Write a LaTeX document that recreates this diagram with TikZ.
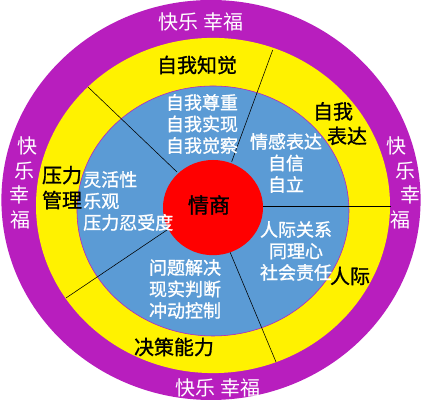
\documentclass[tikz,border=0pt]{standalone}
\usepackage{fontspec}
\setmainfont{Noto Sans CJK SC}
\newfontfamily\heavycjk[FakeBold=1.2]{Noto Sans CJK SC}
\definecolor{ringpurple}{RGB}{184,30,190}
\definecolor{ringblue}{RGB}{91,155,213}
\begin{document}
\begin{tikzpicture}[
  happy/.style={white, inner sep=0pt, font=\fontsize{14.2}{17}\selectfont},
  area/.style={black, inner sep=0pt, align=center, font=\heavycjk\fontsize{14.2}{17.5}\selectfont},
  skill/.style={white, inner sep=0pt, align=center, font=\heavycjk\fontsize{12.8}{15.3}\selectfont}]
  \useasboundingbox (-5.325,-4.875) rectangle (5.225,5.15);
  % rings
  \fill[ringpurple] (-0.05,0.15) ellipse (5.24 and 5.0);
  \fill[yellow] (0,0.0125) ellipse (4.425 and 4.19);
  \draw[ringpurple, fill=ringblue] (0,-0.125) ellipse (3.4 and 3.125);
  % spokes
  \draw (0.4675,1.1075)--(1.4925,3.9);
  \draw (-0.9,0.85)--(-3.125,2.975);
  \draw (1.25,0)--(4.45,0);
  \draw (-1.15,-0.6)--(-3.675,-2.3);
  \draw (0.425,-1.15)--(1.575,-3.9);
  \fill[red] (0,-0.04) ellipse (1.25 and 1.19);
  \node[black, font=\heavycjk\fontsize{15}{18}\selectfont] (eq) at (-0.1,0.025) {情商};
  % happiness ring
  \node[happy] (happytop) at (-0.3,4.6) {快乐 幸福};
  \node[happy] (happybot) at (0.125,-4.55) {快乐 幸福};
  \foreach \ch/\x/\y [count=\i] in {快/-4.65/1.5, 乐/-4.725/0.875, 幸/-4.85/0.275, 福/-4.825/-0.35}
    \node[happy] (happyl\i) at (\x,\y) {\ch};
  \foreach \ch/\x/\y [count=\i] in {快/4.59/1.5, 乐/4.8/0.875, 幸/4.925/0.275, 福/4.675/-0.35}
    \node[happy] (happyr\i) at (\x,\y) {\ch};
  % areas
  \node[area] (aware) at (-0.4,3.525) {自我知觉};
  \node[area, align=left] (express) at (3.175,2.06) {自我\\\hspace{0.7em}表达};
  \node[area, font=\heavycjk\fontsize{14.2}{17.8}\selectfont] (stress) at (-3.775,0.46) {压力\\管理};
  \node[area] (inter) at (3.425,-1.75) {人际};
  \node[area] (decide) at (-0.975,-3.525) {决策能力};
  % skills
  \node[skill] (selfsk) at (-0.275,2.05) {自我尊重\\自我实现\\自我觉察};
  \node[skill] (exprsk) at (1.825,1.075) {情感表达\\自信\\自立};
  \node[skill, anchor=west, align=left] (stresssk) at (-3.25,0.125) {灵活性\\乐观\\压力忍受度};
  \node[skill] (intersk) at (2.075,-1.125) {人际关系\\同理心\\社会责任};
  \node[skill] (decisk) at (-0.7,-2.075) {问题解决\\现实判断\\冲动控制};
\end{tikzpicture}
\end{document}
